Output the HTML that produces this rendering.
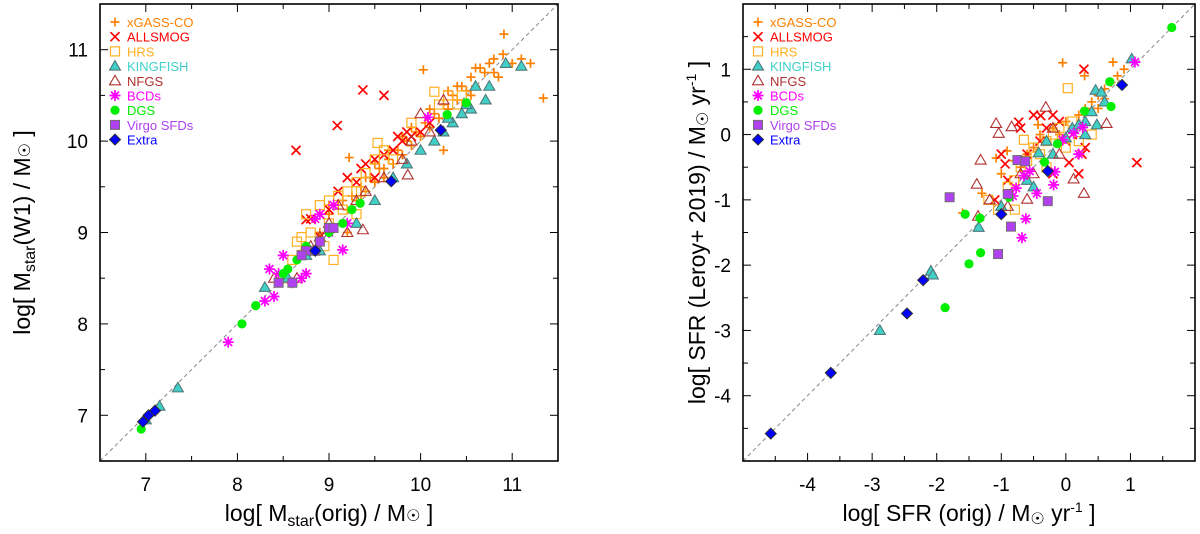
<!DOCTYPE html>
<html><head><meta charset="utf-8"><style>
body{margin:0;background:#fff;width:1200px;height:529px;overflow:hidden}
svg text{font-family:"Liberation Sans",sans-serif}
</style></head><body>
<svg id="fig" width="1200" height="529" xmlns="http://www.w3.org/2000/svg"></svg>
<script>
// ---- Left panel data: [log Mstar(orig), log Mstar(W1)] ----
const L_xgass=[[8.7,8.8],[8.9,9.0],[9.0,9.2],[9.2,9.0],[9.0,9.05],[9.1,9.3],[9.2,9.25],[9.25,9.4],[9.3,9.35],[9.35,9.5],[9.4,9.45],[9.45,9.6],[9.5,9.55],[9.55,9.7],[9.6,9.6],[9.65,9.8],[9.7,9.75],[9.75,9.9],[9.8,9.85],[9.85,10.0],[9.9,9.95],[9.95,10.1],[10.0,10.05],[10.05,10.2],[10.1,10.15],[10.15,10.3],[10.2,10.25],[10.25,10.4],[10.3,10.35],[10.35,10.5],[10.4,10.45],[10.45,10.6],[10.5,10.55],[10.55,10.7],[10.6,10.6],[10.65,10.8],[10.7,10.75],[10.75,10.85],[10.8,10.9],[10.85,10.7],[10.9,10.95],[10.91,11.17],[11.0,10.85],[11.1,10.9],[11.2,10.85],[11.34,10.47],[10.03,10.78],[10.25,9.9],[9.22,9.82],[9.5,9.75],[9.8,10.05],[10.4,10.6],[10.6,10.8],[9.65,9.9],[9.9,10.15],[9.15,9.35],[9.35,9.4],[9.6,9.7],[10.1,10.35],[10.3,10.55],[10.55,10.5],[10.8,10.75],[9.4,9.6],[9.0,9.3]];
const L_allsmog=[[9.37,10.56],[9.6,10.5],[9.09,10.17],[8.64,9.9],[8.75,9.14],[8.8,9.15],[8.9,9.2],[9.0,9.25],[9.1,9.45],[9.2,9.6],[9.3,9.55],[9.4,9.75],[9.5,9.8],[9.6,9.85],[9.7,9.9],[9.75,10.05],[9.8,10.0],[9.85,10.1],[9.9,10.05],[10.0,10.1],[10.1,10.2],[9.5,9.6],[9.35,9.7],[8.9,8.95]];
const L_hrs=[[8.5,8.5],[8.6,8.7],[8.65,8.9],[8.7,8.95],[8.75,9.2],[8.8,9.0],[8.9,9.3],[9.0,9.35],[9.1,9.4],[9.2,9.45],[9.3,9.55],[9.4,9.65],[9.5,9.8],[9.53,9.98],[9.6,9.9],[9.7,9.8],[9.9,10.2],[10.15,10.54],[10.2,10.4],[10.3,10.5],[10.4,10.4],[10.45,10.5],[9.0,9.1],[9.05,8.7],[9.3,9.2],[8.95,8.85],[9.15,9.25],[9.35,9.45]];
const L_kingfish=[[7.0,6.95],[7.15,7.1],[7.35,7.3],[8.3,8.4],[8.55,8.5],[8.75,8.75],[8.9,8.8],[9.3,9.1],[9.5,9.35],[9.7,9.6],[9.85,9.75],[10.0,9.9],[10.15,10.0],[10.25,10.1],[10.35,10.2],[10.45,10.3],[10.55,10.35],[10.71,10.45],[10.75,10.6],[10.93,10.85],[10.3,10.25],[10.5,10.4],[11.1,10.82],[10.6,10.6]];
const L_nfgs=[[8.4,8.5],[8.65,8.5],[8.8,8.85],[9.0,9.1],[9.1,9.3],[9.2,9.0],[9.37,9.03],[9.4,9.45],[9.6,9.6],[9.8,9.8],[9.86,9.63],[9.9,10.0],[10.0,10.3],[10.1,10.1],[10.25,10.45],[8.9,8.95],[9.3,9.35]];
const L_bcds=[[7.9,7.8],[8.3,8.25],[8.35,8.6],[8.4,8.3],[8.45,8.55],[8.5,8.75],[8.6,8.45],[8.7,8.5],[8.75,8.55],[8.85,9.15],[9.15,8.81],[9.05,9.3],[9.2,9.1],[10.08,10.26],[8.9,9.2],[9.0,9.0]];
const L_dgs=[[6.95,6.85],[8.05,8.0],[8.2,8.2],[8.45,8.45],[8.55,8.6],[8.65,8.7],[8.75,8.85],[9.0,9.0],[9.15,9.1],[9.25,9.25],[9.34,9.32],[10.29,10.29],[10.5,10.42],[8.5,8.55]];
const L_virgo=[[8.45,8.45],[8.6,8.45],[8.75,8.8],[8.85,8.8],[8.9,8.9],[9.0,9.05],[9.05,9.05],[8.7,8.75]];
const L_extra=[[6.97,6.93],[7.03,7.0],[7.1,7.05],[8.85,8.8],[9.68,9.56],[10.22,10.12]];
// ---- Right panel data: [log SFR(orig), log SFR(Leroy)] ----
const R_xgass=[[-1.6,-1.2],[-1.3,-0.9],[-1.0,-0.6],[-0.9,-0.9],[-0.8,-0.4],[-0.7,-0.5],[-0.6,-0.3],[-0.5,-0.2],[-0.4,0.0],[-0.3,-0.1],[-0.2,0.1],[-0.1,0.0],[0.0,0.2],[0.1,0.1],[0.2,0.3],[0.3,0.4],[0.4,0.5],[0.5,0.6],[0.6,0.7],[0.7,0.8],[0.8,0.9],[0.9,1.0],[-0.05,1.1],[0.73,1.11],[0.29,0.9],[-0.91,-0.25],[-1.08,-0.36],[-0.43,0.15],[0.5,0.4],[0.6,0.55]];
const R_allsmog=[[0.28,1.0],[1.1,-0.43],[-0.9,-0.7],[-0.7,0.1],[-0.5,0.3],[-0.4,-0.1],[-0.2,0.3],[-0.1,0.2],[0.0,-0.1],[0.1,0.0],[0.2,-0.6],[0.3,-0.2],[-0.6,-0.3],[-0.3,0.1],[-1.0,-0.3],[-1.1,-1.0],[-0.2,-0.6],[0.25,-0.3],[-0.39,0.29],[-0.73,0.19],[-0.94,-0.45],[0.05,-0.43]];
const R_hrs=[[0.03,0.71],[-1.2,-1.0],[-1.05,-1.15],[-0.9,-0.8],[-0.7,-0.5],[-0.6,-0.4],[-0.5,-0.2],[-0.4,-0.3],[-0.3,-0.1],[-0.2,0.0],[-0.1,0.1],[0.0,-0.2],[0.1,0.2],[0.2,-0.1],[0.4,0.0],[-0.3,-0.5],[-0.8,-0.7],[-0.79,-1.15],[-0.65,-0.08]];
const R_kingfish=[[-2.88,-3.0],[-2.09,-2.09],[-2.06,-2.15],[-1.35,-1.42],[-1.0,-1.1],[-0.6,-0.7],[-0.42,-0.28],[-0.2,-0.3],[0.0,-0.05],[0.1,0.1],[0.3,0.2],[0.4,0.35],[0.46,0.68],[0.48,0.15],[0.6,0.5],[0.55,0.65],[0.3,0.0],[1.02,1.16],[-0.3,-0.1],[-0.5,-0.8],[0.2,0.15]];
const R_nfgs=[[-1.32,-0.39],[-1.08,0.17],[-1.04,0.02],[-0.84,0.12],[-1.38,-0.76],[0.12,-0.68],[0.28,-0.9],[-0.6,-0.99],[0.63,0.17],[-0.31,0.42],[-1.18,-1.0],[-1.36,-1.25],[-0.5,-0.6],[-0.2,0.1],[-0.1,-0.3],[-0.7,-0.6],[-0.9,-1.1]];
const R_bcds=[[1.07,1.11],[-0.62,-1.29],[-0.68,-1.58],[-0.19,-0.77],[-0.45,-0.9],[0.2,-0.3],[0.12,0.02],[0.26,0.11],[-0.05,-0.08],[-0.56,-0.56],[-0.65,-0.63],[-0.77,-0.82],[-0.82,-0.94],[-0.17,-0.57]];
const R_dgs=[[1.64,1.64],[0.68,0.81],[0.7,0.43],[0.29,0.36],[-0.13,-0.14],[-0.33,-0.42],[-0.88,-0.96],[-1.56,-1.22],[-1.33,-1.28],[-1.32,-1.81],[-1.5,-1.98],[-1.87,-2.65]];
const R_virgo=[[-1.8,-0.96],[-0.75,-0.39],[-0.63,-0.41],[-0.9,-0.91],[-0.28,-1.02],[-0.85,-1.41],[-1.05,-1.83]];
const R_extra=[[-4.57,-4.58],[-3.64,-3.65],[-2.46,-2.74],[-2.21,-2.23],[-1.0,-1.22],[-0.28,-0.56],[0.87,0.76]];
const L_ticks=[7,8,9,10,11];
const R_ticks=[-4,-3,-2,-1,0,1];
const legendNames=["xGASS-CO","ALLSMOG","HRS","KINGFISH","NFGS","BCDs","DGS","Virgo SFDs","Extra"];

const NS="http://www.w3.org/2000/svg";
const svg=document.getElementById('fig');
function mk(tag,attrs,parent){const e=document.createElementNS(NS,tag);for(const k in attrs)e.setAttribute(k,attrs[k]);(parent||svg).appendChild(e);return e;}

const styles=[
 {t:'plus',c:'#ff8000'},{t:'x',c:'#ff0000'},{t:'sq',c:'#ffb020',open:1},{t:'tri',c:'#40d0c8',s:'#507878'},
 {t:'tri',c:'#b03030',open:1},{t:'ast',c:'#ff00ff'},{t:'circ',c:'#00ee00'},{t:'sq',c:'#b040f0',s:'#707070'},{t:'dia',c:'#0000ff',s:'#303030'}];
const legendColors=['#ff8000','#ff0000','#ffb020','#40d0c8','#b03030','#ff00ff','#00ee00','#b040f0','#0000ff'];

function marker(g,st,x,y){
 let e;
 if(st.t==='plus'){e=mk('path',{d:`M${x-4.5},${y}H${x+4.5}M${x},${y-4.5}V${y+4.5}`,stroke:st.c,'stroke-width':1.7,fill:'none'},g);}
 else if(st.t==='x'){e=mk('path',{d:`M${x-4.5},${y-4.5}L${x+4.5},${y+4.5}M${x-4.5},${y+4.5}L${x+4.5},${y-4.5}`,stroke:st.c,'stroke-width':1.7,fill:'none'},g);}
 else if(st.t==='sq'){e=mk('rect',{x:x-4.5,y:y-4.5,width:9,height:9,fill:st.open?'none':st.c,stroke:st.open?st.c:st.s,'stroke-width':st.open?1.2:1},g);}
 else if(st.t==='tri'){e=mk('path',{d:`M${x},${y-5.5}L${x+5.5},${y+4}L${x-5.5},${y+4}Z`,fill:st.open?'none':st.c,stroke:st.open?st.c:st.s,'stroke-width':1.1},g);}
 else if(st.t==='ast'){e=mk('path',{d:`M${x-5.5},${y}H${x+5.5}M${x},${y-5.5}V${y+5.5}M${x-3.9},${y-3.9}L${x+3.9},${y+3.9}M${x-3.9},${y+3.9}L${x+3.9},${y-3.9}`,stroke:st.c,'stroke-width':1.7,fill:'none'},g);}
 else if(st.t==='circ'){e=mk('circle',{cx:x,cy:y,r:4.6,fill:st.c},g);}
 else {e=mk('path',{d:`M${x},${y-5.5}L${x+5.5},${y}L${x},${y+5.5}L${x-5.5},${y}Z`,fill:st.c,stroke:st.s,'stroke-width':1},g);}
 return e;
}

function panel(pref,X0,X1,Y0,Y1,xmin,xmax,ymin,ymax,ticks,sets,xlabel,ylabel,ylx,lgx){
 const sx=v=>X0+(v-xmin)/(xmax-xmin)*(X1-X0);
 const sy=v=>Y1-(v-ymin)/(ymax-ymin)*(Y1-Y0);
 const g=mk('g',{});
 
 
 const d=mk('line',{x1:sx(xmin),y1:sy(xmin),x2:sx(xmax),y2:sy(xmax),stroke:'#888','stroke-width':1,'stroke-dasharray':'4,3'},g);
 
 
 sets.forEach((pts,i)=>{
  const sg=mk('g',{},g);
  
  
  pts.forEach(p=>{const m=marker(sg,styles[i],sx(p[0]),sy(p[1]));
   
   });
 });
 const fr=mk('rect',{x:X0,y:Y0,width:X1-X0,height:Y1-Y0,fill:'none',stroke:'#000','stroke-width':1.6},g);
 
 
 for(let v=Math.ceil(xmin*2)/2;v<=xmax+1e-9;v+=0.5){
  const major=Math.abs(v-Math.round(v))<1e-9; const L=major?8:5;
  mk('line',{x1:sx(v),x2:sx(v),y1:Y1,y2:Y1-L,stroke:'#000','stroke-width':1},g);
  mk('line',{x1:sx(v),x2:sx(v),y1:Y0,y2:Y0+L,stroke:'#000','stroke-width':1},g);
 }
 for(let v=Math.ceil(ymin*2)/2;v<=ymax+1e-9;v+=0.5){
  const major=Math.abs(v-Math.round(v))<1e-9; const L=major?8:5;
  mk('line',{y1:sy(v),y2:sy(v),x1:X0,x2:X0+L,stroke:'#000','stroke-width':1},g);
  mk('line',{y1:sy(v),y2:sy(v),x1:X1,x2:X1-L,stroke:'#000','stroke-width':1},g);
 }
 ticks.forEach(v=>{
  const t=mk('text',{x:sx(v),y:Y1+30,'font-size':19,'text-anchor':'middle'},g);t.textContent=v;
  
  
  const u=mk('text',{x:X0-12,y:sy(v)+7,'font-size':19,'text-anchor':'end'},g);u.textContent=v;
  
  
 });
 const xl=mk('text',{x:(X0+X1)/2,y:Y1+60,'font-size':23,'text-anchor':'middle'},g);xl.innerHTML=xlabel;
 
 
 const yl=mk('text',{x:0,y:0,'font-size':23,'text-anchor':'middle',transform:`translate(${ylx},${(Y0+Y1)/2}) rotate(-90)`},g);yl.innerHTML=ylabel;
 
 
 const lg=mk('g',{},g);
 
 
 legendNames.forEach((n,i)=>{
  const y=Y0+18+i*14.7;
  const eg=mk('g',{},lg);
  
  
  marker(eg,styles[i],lgx,y);
  const t=mk('text',{x:lgx+12,y:y+5,'font-size':13,fill:legendColors[i]},eg);t.textContent=n;
 });
}
panel('left',100,558,4,461,6.5,11.5,6.5,11.5,L_ticks,
 [L_xgass,L_allsmog,L_hrs,L_kingfish,L_nfgs,L_bcds,L_dgs,L_virgo,L_extra],
 'log[ M<tspan font-size="16" dy="5">star</tspan><tspan dy="-5">(orig) / M</tspan><tspan font-size="16">☉</tspan> ]',
 'log[ M<tspan font-size="16" dy="5">star</tspan><tspan dy="-5">(W1) / M</tspan><tspan font-size="16">☉</tspan> ]',30,115);
panel('right',743,1195,4,461,-5,2,-5,2,R_ticks,
 [R_xgass,R_allsmog,R_hrs,R_kingfish,R_nfgs,R_bcds,R_dgs,R_virgo,R_extra],
 'log[ SFR (orig) / M<tspan font-size="16" dy="3">☉</tspan><tspan dy="-3"> yr</tspan><tspan font-size="14" dy="-9">-1</tspan><tspan dy="9"> ]</tspan>',
 'log[ SFR (Leroy+ 2019) / M<tspan font-size="16" dy="3">☉</tspan><tspan dy="-3"> yr</tspan><tspan font-size="14" dy="-9">-1</tspan><tspan dy="9"> ]</tspan>',705,758);
</script>
</body></html>
